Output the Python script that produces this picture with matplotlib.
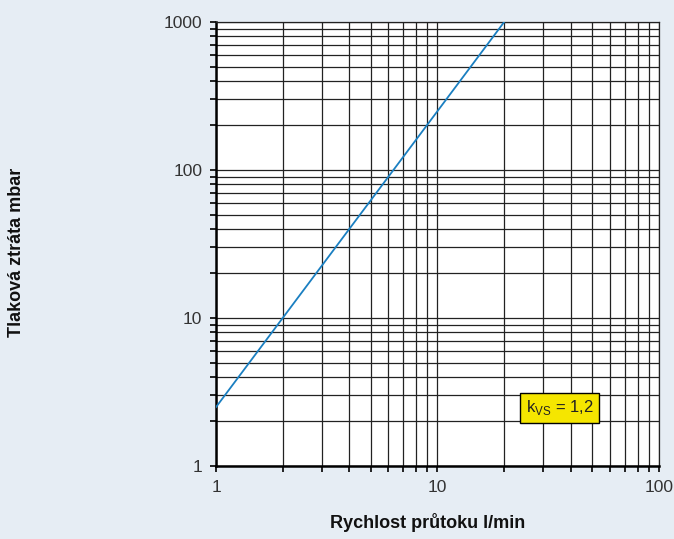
import matplotlib
matplotlib.use('Agg')
import matplotlib.pyplot as plt
from matplotlib.ticker import LogLocator, NullFormatter, FixedLocator, FixedFormatter

plt.rcParams['font.family'] = ['Liberation Sans', 'DejaVu Sans']
plt.rcParams['mathtext.fontset'] = 'custom'
plt.rcParams['mathtext.rm'] = 'Liberation Sans'

# průtok l/min a tlaková ztráta mbar (kvs = 1,2)
prutok = [1, 20]
ztrata = [2.5, 1000]
x_ticks = [1, 10, 100]
x_labels = ['1', '10', '100']
y_ticks = [1, 10, 100, 1000]
y_labels = ['1', '10', '100', '1000']

bg = '#e6edf4'
fig = plt.figure(figsize=(6.74, 5.39), dpi=100, facecolor=bg)
ax = fig.add_axes([0.3205, 0.1354, 0.6572, 0.8238])
ax.set_facecolor('white')

ax.plot(prutok, ztrata, color='#1a7fc1', lw=1.3, zorder=3)

ax.set_xscale('log')
ax.set_yscale('log')
ax.set_xlim(1, 100)
ax.set_ylim(1, 1000)

ax.xaxis.set_major_locator(FixedLocator(x_ticks))
ax.xaxis.set_major_formatter(FixedFormatter(x_labels))
ax.yaxis.set_major_locator(FixedLocator(y_ticks))
ax.yaxis.set_major_formatter(FixedFormatter(y_labels))
for a in (ax.xaxis, ax.yaxis):
    a.set_minor_locator(LogLocator(base=10, subs=range(2, 10)))
    a.set_minor_formatter(NullFormatter())

ax.grid(True, which='both', color='#222222', lw=0.9)
ax.tick_params(which='both', direction='out', length=4, width=1.2, color='black',
               labelsize=12.5, pad=6, labelcolor='#333333')
for s in ax.spines.values():
    s.set_color('#222222')
    s.set_linewidth(0.9)
ax.spines['left'].set_linewidth(1.8)
ax.spines['bottom'].set_linewidth(1.8)
ax.spines['left'].set_color('black')
ax.spines['bottom'].set_color('black')

fig.text(0.025, 0.532, 'Tlaková ztráta mbar', rotation=90, ha='center', va='center',
         fontsize=13, fontweight='bold', color='#111111')
fig.text(0.635, 0.031, 'Rychlost průtoku l/min', ha='center', va='center',
         fontsize=13, fontweight='bold', color='#111111')

ax.text(0.776, 0.131, r'k$_{\mathrm{VS}}$ = 1,2', transform=ax.transAxes, ha='center', va='center',
        fontsize=12, zorder=5, color='#222222',
        bbox=dict(boxstyle='square,pad=0.35', facecolor='#f5e600', edgecolor='black', lw=1))

fig.savefig('out.png', dpi=100, facecolor=bg)
